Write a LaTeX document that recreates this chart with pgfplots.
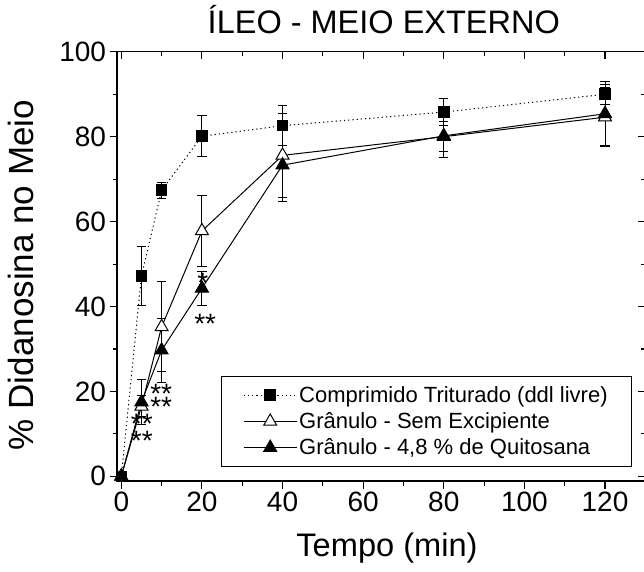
\documentclass[border=0pt]{standalone}
\usepackage{fontspec}
\setmainfont{Liberation Sans}
\usepackage{pgfplots}
\pgfplotsset{compat=1.18}
\begin{document}
\begin{tikzpicture}
\pgfplotsset{
  common/.style={
    scale only axis, width=528.3pt, height=429.2pt,
    at={(0pt,0pt)}, anchor=south west,
    xmin=-1.07, xmax=130, ymin=-1.1, ymax=100,
    xtick={0,20,...,120}, ytick={0,20,...,100},
    minor x tick num=1, minor y tick num=1,
    major tick length=7.5pt, minor tick length=4.5pt,
    axis line style={line width=1.3pt},
    tick style={black, line width=1.1pt},
  }
}
\begin{axis}[common, tick align=outside, xtick pos=left, ytick pos=left, clip=false,
  tick label style={font=\fontsize{28}{34}\selectfont},
  /pgf/number format/assume math mode=true,
  title={ÍLEO - MEIO EXTERNO},
  title style={at={(axis description cs:0.505,1.029)}, anchor=base, font=\fontsize{32.5}{40}\selectfont},
  xlabel={Tempo (min)},
  xlabel style={at={(axis description cs:0.511,-0.176)}, anchor=base, font=\fontsize{32.6}{39}\selectfont},
  ylabel={\% Didanosina no Meio},
  ylabel style={at={(axis description cs:-0.159,0.48)}, anchor=base, font=\fontsize{35}{42}\selectfont},
  legend cell align=left,
  legend image code/.code={\draw[mark repeat=2,mark phase=2,#1] plot coordinates {(0pt,0pt) (26.5pt,0pt) (53pt,0pt)};},
  legend style={at={(rel axis cs:0.975,0.033)}, anchor=south east, draw=black, line width=0.8pt,
    inner xsep=22pt, inner ysep=8pt, row sep=4.7pt,
    font=\fontsize{22}{26}\selectfont,
    every node/.append style={inner xsep=8pt, inner ysep=0pt, text height=16.5pt, text depth=5.5pt}},
]
\addplot[black, line width=1pt, dash pattern=on 1.2pt off 3pt, mark=square*, mark size=5.3pt,
  mark options={solid, fill=black},
  error bars/.cd, y dir=both, y explicit,
  error bar style={solid, line width=0.9pt},
  error mark options={rotate=90, mark size=4.7pt, line width=0.9pt, solid}]
  coordinates {(0,0) +- (0,0) (5,47.2) +- (0,6.9) (10,67.4) +- (0,1.9) (20,80.1) +- (0,4.8)
    (40,82.6) +- (0,4.7) (80,85.8) +- (0,3.2) (120,90.0) +- (0,2.3)};
\addlegendentry{Comprimido Triturado (ddl livre)}
\addplot[black, line width=1pt, mark=triangle*, mark size=7.5pt,
  mark options={fill=white},
  error bars/.cd, y dir=both, y explicit,
  error bar style={line width=0.9pt},
  error mark options={rotate=90, mark size=4.7pt, line width=0.9pt}]
  coordinates {(0,0) +- (0,0) (5,16.5) +- (0,2.5) (10,35.2) +- (0,10.6) (20,57.8) +- (0,8.3)
    (40,75.6) +- (0,9.9) (80,80.0) +- (0,3.5) (120,84.6) +- (0,7.0)};
\addlegendentry{Grânulo - Sem Excipiente}
\addplot[black, line width=1pt, mark=triangle*, mark size=7.5pt,
  mark options={fill=black},
  error bars/.cd, y dir=both, y explicit,
  error bar style={line width=0.9pt},
  error mark options={rotate=90, mark size=4.7pt, line width=0.9pt}]
  coordinates {(0,0) +- (0,0) (5,17.5) +- (0,5.3) (10,29.7) +- (0,7.5) (20,44.3) +- (0,4.0)
    (40,73.3) +- (0,8.5) (80,80.2) +- (0,5.0) (120,85.4) +- (0,7.5)};
\addlegendentry{Grânulo - 4,8 \% de Quitosana}
\node[anchor=base, inner sep=0pt, font=\fontsize{28}{34}\selectfont] at (axis cs:5.1,10.1) {**};
\node[anchor=base, inner sep=0pt, font=\fontsize{28}{34}\selectfont] at (axis cs:5.1,6.1) {**};
\node[anchor=base, inner sep=0pt, font=\fontsize{28}{34}\selectfont] at (axis cs:9.9,17.1) {**};
\node[anchor=base, inner sep=0pt, font=\fontsize{28}{34}\selectfont] at (axis cs:9.9,14.1) {**};
\node[anchor=base, inner sep=0pt, font=\fontsize{28}{34}\selectfont] at (axis cs:20.2,43.4) {*};
\node[anchor=base, inner sep=0pt, font=\fontsize{28}{34}\selectfont] at (axis cs:20.8,33.7) {**};
\end{axis}
\begin{axis}[common, tick align=inside, xtick pos=right, ytick pos=right,
  xticklabels={}, yticklabels={}]
\end{axis}
\pgfresetboundingbox
\path[use as bounding box] (-117pt,-90pt) rectangle (527pt,481pt);
\end{tikzpicture}
\end{document}
